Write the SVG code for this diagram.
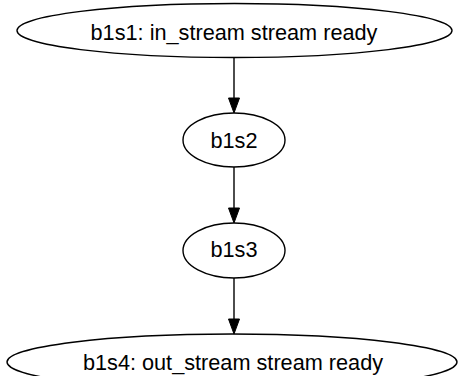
<svg xmlns="http://www.w3.org/2000/svg" width="460" height="376" viewBox="0 0 460 376">
<defs>
<style>
.node ellipse{fill:none;stroke:#000;stroke-width:1.4}
.node text{font-family:"Liberation Sans",Arial,sans-serif;font-size:21.7px;fill:#000;text-anchor:middle}
.edge line{stroke:#000;stroke-width:1.4}
.edge polygon{fill:#000;stroke:#000;stroke-width:1}
</style>
</defs>
<rect width="460" height="376" fill="#fff"/>
<g id="connectors">
<g class="edge"><line x1="234" y1="58" x2="234" y2="99"/><polygon points="228.5,98 239.5,98 234,113"/></g>
<g class="edge"><line x1="234" y1="167" x2="234" y2="209"/><polygon points="228.5,208 239.5,208 234,223"/></g>
<g class="edge"><line x1="234" y1="278" x2="234" y2="320"/><polygon points="228.5,319 239.5,319 234,334"/></g>
</g>
<g id="b1s1" class="node"><ellipse cx="234.5" cy="30.5" rx="217.5" ry="27"/><text x="234" y="40">b1s1: in_stream stream ready</text></g>
<g id="b1s2" class="node"><ellipse cx="234" cy="140" rx="51" ry="27"/><text x="234" y="148">b1s2</text></g>
<g id="b1s3" class="node"><ellipse cx="234" cy="250.5" rx="51" ry="27.5"/><text x="234" y="257">b1s3</text></g>
<g id="b1s4" class="node"><ellipse cx="232" cy="362" rx="225" ry="28"/><text x="233" y="370">b1s4: out_stream stream ready</text></g>
</svg>
